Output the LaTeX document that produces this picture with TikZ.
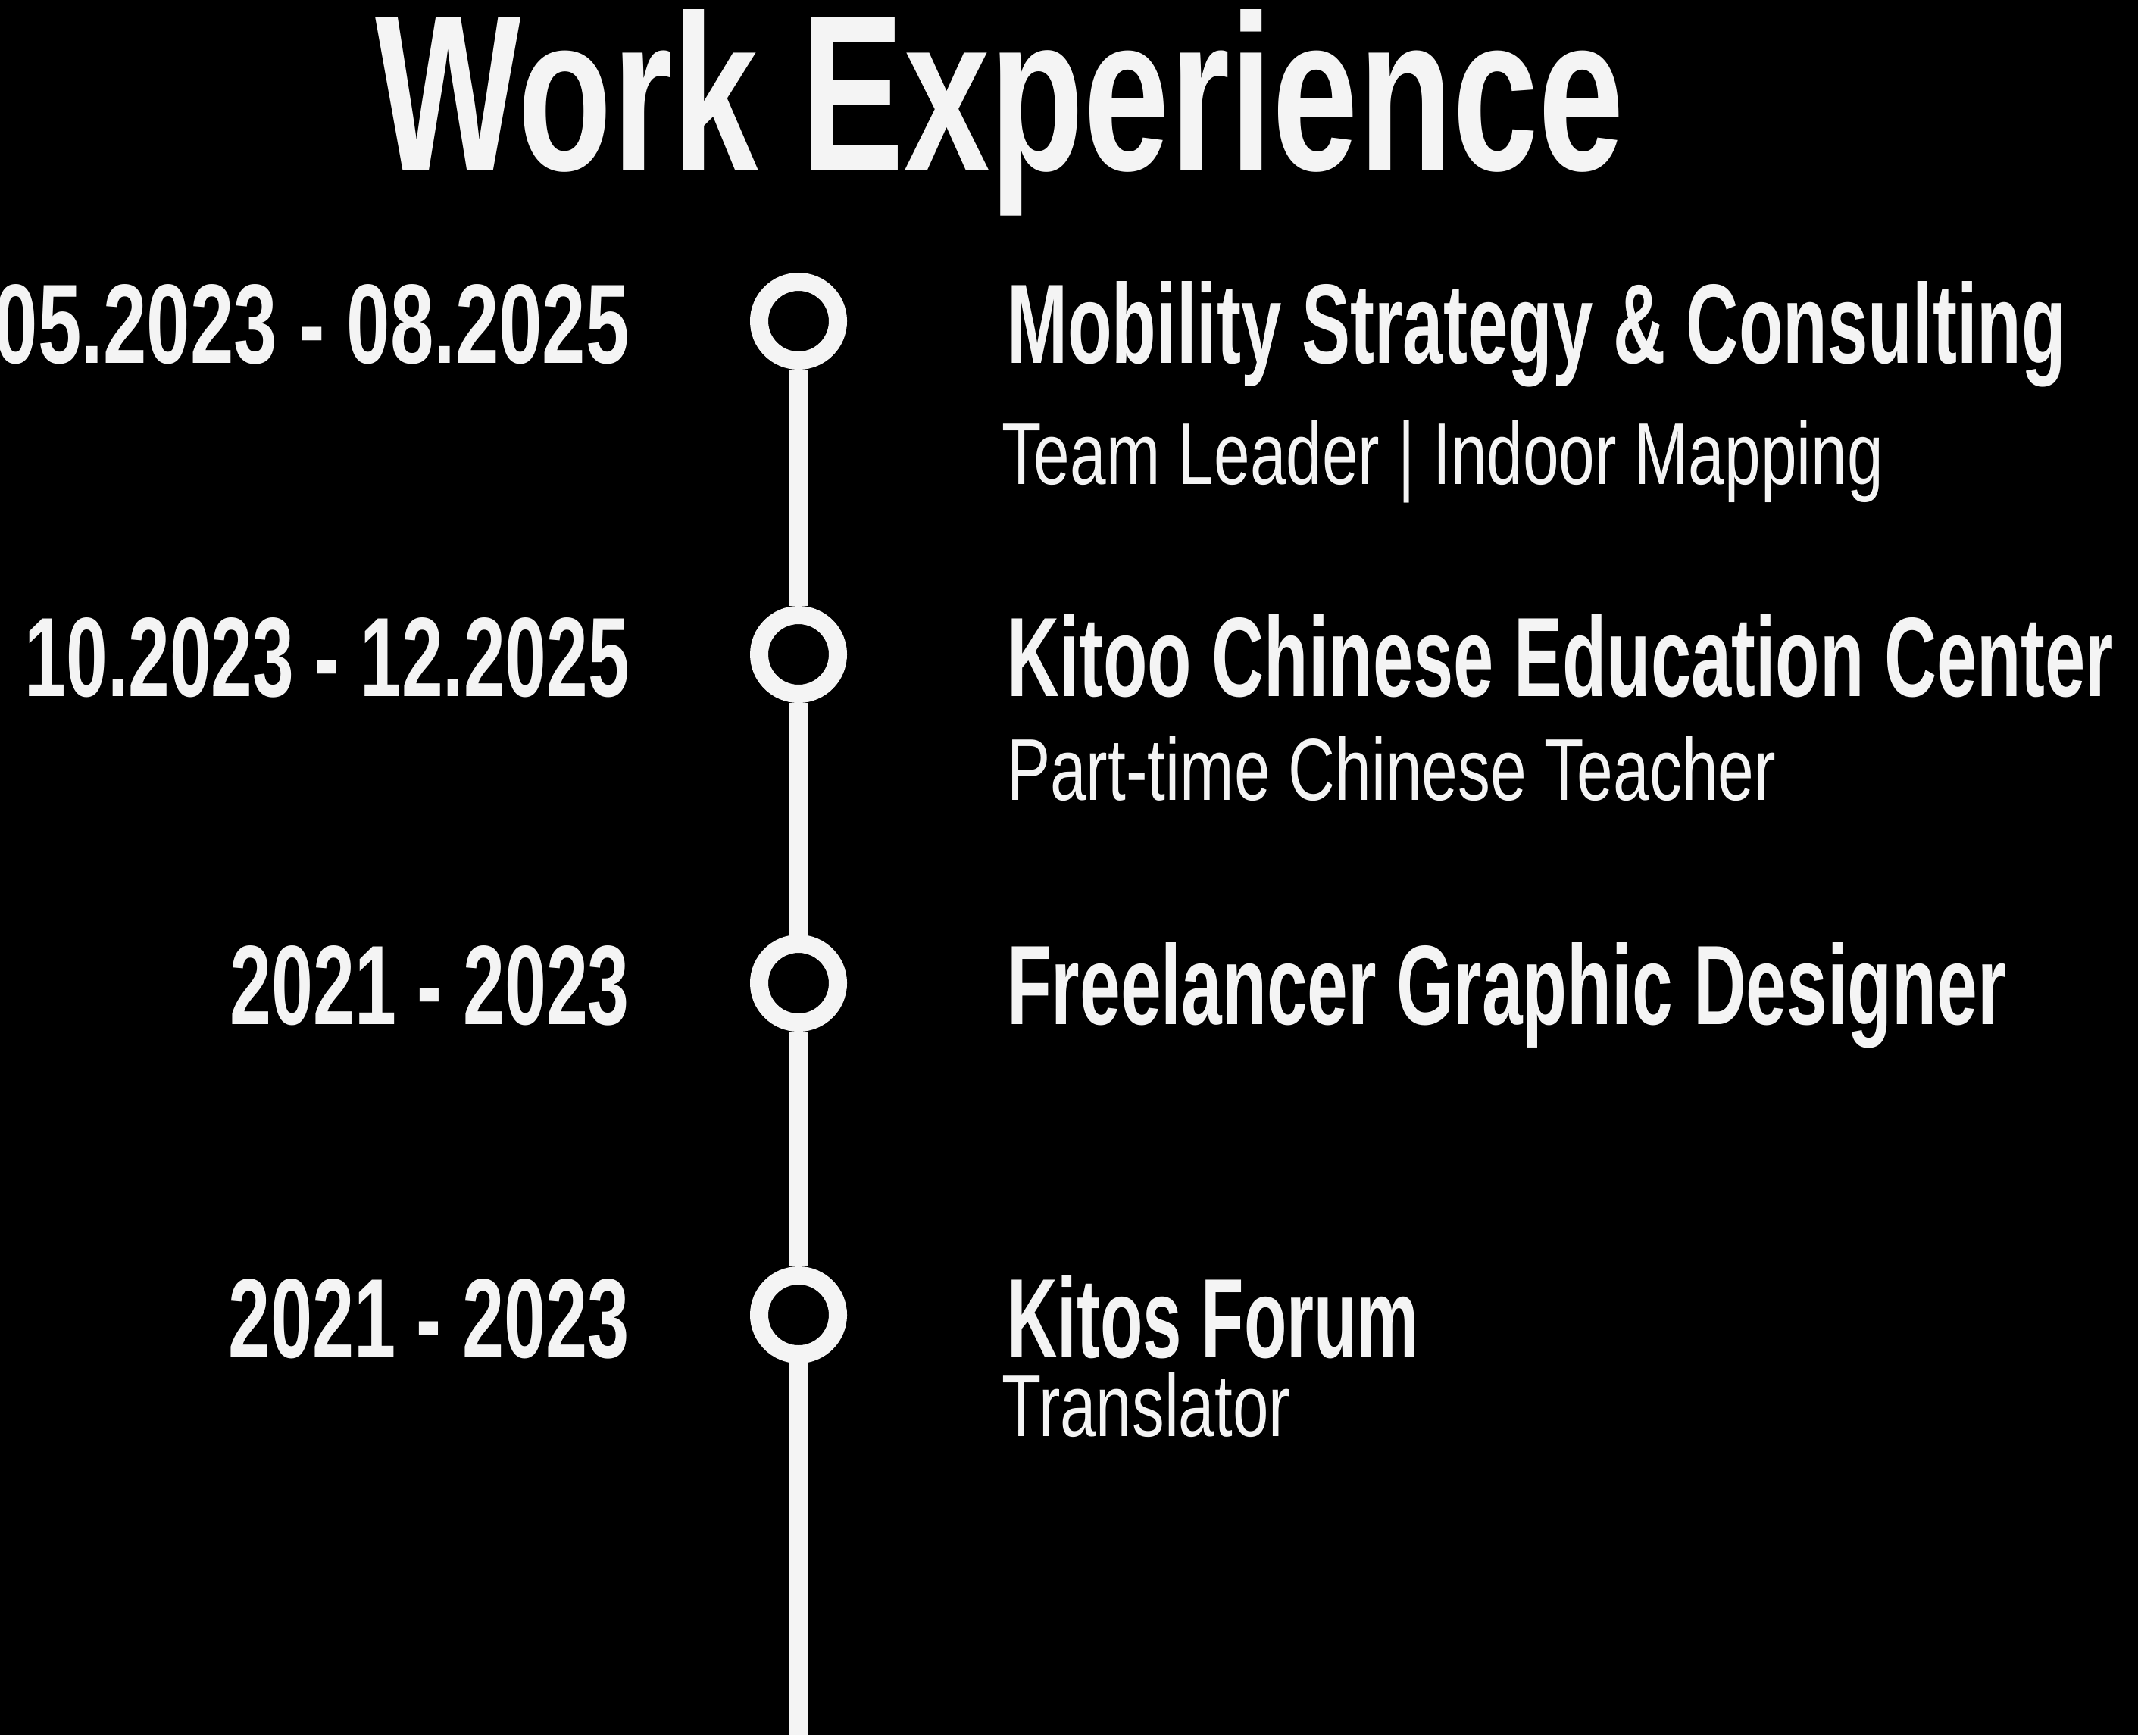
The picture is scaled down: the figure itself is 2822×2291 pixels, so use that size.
\documentclass[tikz,border=0pt]{standalone}
\usepackage{fontspec}
\setmainfont{Liberation Sans}
\usepackage{graphicx}
\definecolor{fg}{HTML}{F4F4F4}
\newlength\fitunit
\setlength\fitunit{0.25pt}
\newcommand\fitbox[3]{\resizebox{#1\fitunit}{#2\fitunit}{#3}}
\tikzset{
  lbl/.style={inner sep=0pt, outer sep=0pt, text=fg, font=\bfseries},
  datelbl/.style={lbl, anchor=base east},
  headlbl/.style={lbl, anchor=base west},
  sublbl/.style={lbl, anchor=base west, font=\mdseries},
  ring/.style={circle, draw=fg, line width=6pt, minimum size=26pt, inner sep=0pt},
  conn/.style={draw=fg, line width=6pt},
}
\begin{document}
\begin{tikzpicture}[x=0.25pt, y=-0.25pt]
\fill[black] (0,0) rectangle (2822,2291);
\useasboundingbox (0,0) rectangle (2822,2291);

% title
\node[headlbl] (title) at (495,224) {\fitbox{1649}{212}{Work Experience}};

% timeline rings
\node[ring] (c1) at (1054,424) {};
\node[ring] (c2) at (1054,864) {};
\node[ring] (c3) at (1054,1298) {};
\node[ring] (c4) at (1054,1736) {};
\coordinate (bottom) at (1054,2291);
\draw[conn] (c1.south) -- (c2.north);
\draw[conn] (c2.south) -- (c3.north);
\draw[conn] (c3.south) -- (c4.north);
\draw[conn] (c4.south) -- (bottom);

% dates
\node[datelbl] (d1) at (831,479) {\fitbox{838}{104}{05.2023 - 08.2025}};
\node[datelbl] (d2) at (831,919) {\fitbox{798}{104}{10.2023 - 12.2025}};
\node[datelbl] (d3) at (831,1352) {\fitbox{527}{104}{2021 - 2023}};
\node[datelbl] (d4) at (831,1792) {\fitbox{529}{104}{2021 - 2023}};

% entries
\node[headlbl] (h1) at (1329,479) {\fitbox{1398}{108}{Mobility Strategy \& Consulting}};
\node[sublbl] (s1) at (1322,639) {\fitbox{1164}{84}{Team Leader | Indoor Mapping}};

\node[headlbl] (h2) at (1329,919) {\fitbox{1461}{108}{Kitoo Chinese Education Center}};
\node[sublbl] (s2) at (1329,1056) {\fitbox{1015}{84}{Part-time Chinese Teacher}};

\node[headlbl] (h3) at (1329,1352) {\fitbox{1319}{108}{Freelancer Graphic Designer}};

\node[headlbl] (h4) at (1329,1792) {\fitbox{544}{108}{Kitos Forum}};
\node[sublbl] (s4) at (1322,1896) {\fitbox{381}{84}{Translator}};
\end{tikzpicture}
\end{document}
